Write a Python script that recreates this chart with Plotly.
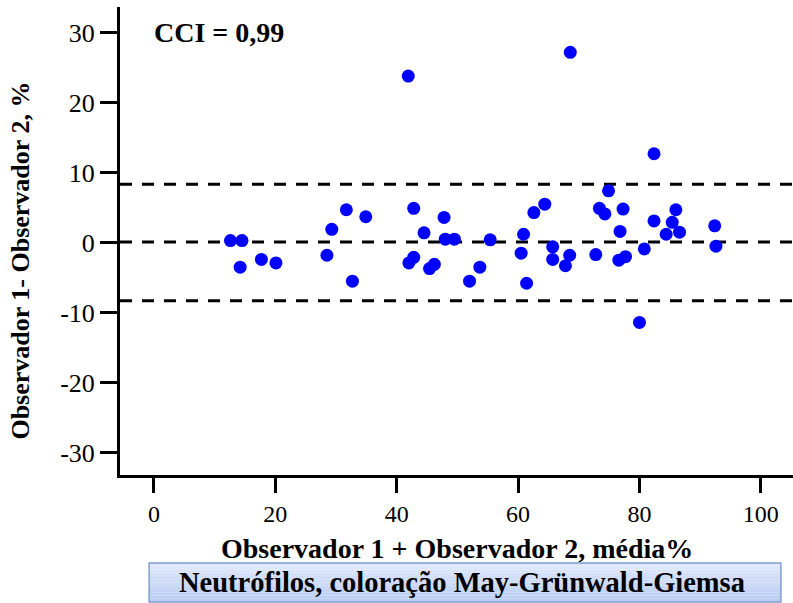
import plotly.graph_objects as go

# Data
media = [12.6, 14.5, 14.2, 17.7, 20.1, 29.3, 31.7, 34.9, 28.5, 32.7,
         41.9, 68.6, 82.4, 74.9, 42.8, 47.8, 44.5, 48.0, 49.5, 55.4,
         60.9, 62.6, 64.4, 73.4, 74.3, 77.3, 76.8, 82.4, 86.0, 85.4,
         84.4, 86.6, 92.4, 92.6, 42.0, 42.8, 45.4, 46.2, 53.7, 52.0,
         60.5, 61.4, 65.7, 65.7, 67.8, 68.5, 72.8, 76.6, 77.7, 80.8,
         80.0]
diferenca = [0.3, 0.3, -3.5, -2.4, -2.9, 1.9, 4.7, 3.7, -1.8, -5.5,
             23.8, 27.2, 12.7, 7.4, 4.9, 3.6, 1.4, 0.5, 0.5, 0.4,
             1.2, 4.3, 5.5, 4.9, 4.1, 4.8, 1.6, 3.1, 4.7, 2.9,
             1.2, 1.5, 2.4, -0.5, -2.9, -2.1, -3.7, -3.1, -3.5, -5.5,
             -1.5, -5.8, -0.6, -2.4, -3.3, -1.8, -1.7, -2.5, -2.0, -0.9,
             -11.4]
media_dif = 0.1
limite_sup = 8.35
limite_inf = -8.3
x_ticks = [0, 20, 40, 60, 80, 100]
y_ticks = [-30, -20, -10, 0, 10, 20, 30]
y_tick_labels = ["-30", "-20", "-10", "0", "10", "20", "30"]
cci_text = "CCI = 0,99"
x_title = "Observador 1 + Observador 2, média%"
y_title = "Observador 1- Observador 2, %"
box_text = "Neutrófilos, coloração May-Grünwald-Giemsa"

FONT = "Liberation Serif, Times New Roman, serif"

fig = go.Figure()
fig.add_trace(go.Scatter(
    x=media, y=diferenca, mode="markers",
    marker=dict(color="#0000ff", size=13, line=dict(width=0)),
    showlegend=False, cliponaxis=False,
))

for yv in [limite_sup, media_dif, limite_inf]:
    fig.add_shape(type="line", xref="paper", yref="y", x0=0, x1=1, y0=yv, y1=yv,
                  line=dict(color="black", width=3, dash="12px,10px"), layer="below")

# Label box with a simple vertical gradient
x0b, x1b = 0.0433, 0.982
y0b, y1b = -0.2714, -0.188
n = 12
top_col = (224, 233, 251)
bot_col = (186, 205, 243)
for i in range(n):
    t = i / (n - 1)
    c = tuple(int(top_col[k] + (bot_col[k] - top_col[k]) * t) for k in range(3))
    ya = y1b - (y1b - y0b) * i / n
    yb = y1b - (y1b - y0b) * (i + 1) / n
    fig.add_shape(type="rect", xref="paper", yref="paper", x0=x0b, x1=x1b, y0=yb, y1=ya,
                  fillcolor="rgb(%d,%d,%d)" % c, line=dict(width=0))
fig.add_shape(type="rect", xref="paper", yref="paper", x0=x0b, x1=x1b, y0=y0b, y1=y1b,
              fillcolor="rgba(0,0,0,0)", line=dict(color="#7f9fd2", width=1.5))

fig.add_annotation(x=0.508, y=(y0b + y1b) / 2, xref="paper", yref="paper",
                   text="<b>%s</b>" % box_text, showarrow=False,
                   font=dict(family=FONT, size=28.5, color="black"),
                   xanchor="center", yanchor="middle")

fig.add_annotation(x=-0.4, y=30.0, xref="x", yref="y", text="<b>%s</b>" % cci_text,
                   showarrow=False, xanchor="left", yanchor="middle",
                   font=dict(family=FONT, size=28, color="black"))

fig.add_annotation(x=0.5, y=-0.156, xref="paper", yref="paper", text="<b>%s</b>" % x_title,
                   showarrow=False, xanchor="center", yanchor="middle",
                   font=dict(family=FONT, size=28, color="black"))

fig.add_annotation(x=-0.148, y=0.459, xref="paper", yref="paper", text="<b>%s</b>" % y_title,
                   showarrow=False, xanchor="center", yanchor="middle", textangle=-90,
                   font=dict(family=FONT, size=26, color="black"))

fig.update_layout(
    width=793, height=603,
    margin=dict(l=120, r=0, t=7, b=128),
    plot_bgcolor="white", paper_bgcolor="white",
    xaxis=dict(range=[-5.6, 105.3], tickvals=x_ticks, ticks="outside", ticklen=15,
               tickwidth=3, tickcolor="black", showline=True, linewidth=3, linecolor="black",
               showgrid=False, zeroline=False,
               tickfont=dict(family=FONT, size=24, color="black")),
    yaxis=dict(range=[-33.2, 33.67], tickvals=y_ticks, ticktext=y_tick_labels,
               ticks="outside", ticklen=17,
               tickwidth=3, tickcolor="black", showline=True, linewidth=3, linecolor="black",
               showgrid=False, zeroline=False,
               tickfont=dict(family=FONT, size=26, color="black")),
)

fig.write_html("out.html")
